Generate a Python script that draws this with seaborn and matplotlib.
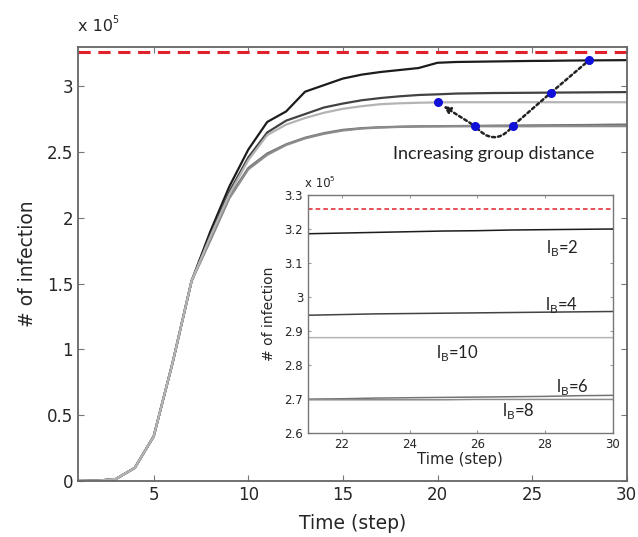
import numpy as np
import pandas as pd
import seaborn as sns
import matplotlib.pyplot as plt

# infections (x 1e5) per time step for each group distance l_B
time = list(range(1, 31))
ib2 = [0, 0.002, 0.015, 0.10, 0.34, 0.90, 1.52, 1.90, 2.24, 2.52, 2.73, 2.81, 2.96, 3.01, 3.06,
       3.09, 3.11, 3.125, 3.14, 3.18, 3.186, 3.188, 3.19, 3.192, 3.194, 3.195, 3.197, 3.198, 3.199, 3.20]
ib4 = [0, 0.002, 0.015, 0.10, 0.34, 0.90, 1.52, 1.87, 2.20, 2.46, 2.65, 2.74, 2.79, 2.84, 2.87,
       2.895, 2.912, 2.925, 2.935, 2.94, 2.946, 2.948, 2.950, 2.951, 2.952, 2.953, 2.954, 2.955, 2.956, 2.957]
ib10 = [0, 0.002, 0.015, 0.10, 0.34, 0.90, 1.52, 1.86, 2.18, 2.44, 2.63, 2.71, 2.76, 2.80, 2.83,
        2.85, 2.865, 2.872, 2.876, 2.879, 2.88, 2.88, 2.88, 2.88, 2.88, 2.88, 2.88, 2.88, 2.88, 2.88]
ib6 = [0, 0.002, 0.015, 0.10, 0.34, 0.90, 1.52, 1.84, 2.16, 2.38, 2.49, 2.56, 2.61, 2.645, 2.67,
       2.683, 2.69, 2.694, 2.697, 2.698, 2.699, 2.700, 2.702, 2.703, 2.704, 2.705, 2.706, 2.707, 2.709, 2.71]
ib8 = [0, 0.002, 0.015, 0.10, 0.34, 0.90, 1.52, 1.83, 2.15, 2.37, 2.48, 2.555, 2.605, 2.64, 2.665,
       2.68, 2.688, 2.692, 2.695, 2.696, 2.697, 2.697, 2.697, 2.697, 2.697, 2.698, 2.698, 2.698, 2.698, 2.698]
upper_bound = 3.26

series = [('2', ib2, '#1c1c1c'), ('4', ib4, '#424242'), ('6', ib6, '#747474'),
          ('8', ib8, '#8c8c8c'), ('10', ib10, '#b4b4b4')]
# dots marking where the arrow passes: (series, time)
dot_marks = [('10', 20), ('8', 22), ('6', 24), ('4', 26), ('2', 28)]
# label positions in the inset
ib_labels = {'2': (28.5, 3.145), '4': (28.5, 2.975), '10': (25.4, 2.836),
             '6': (28.8, 2.736), '8': (27.2, 2.664)}

sns.set_style('ticks')
plt.rcParams['font.family'] = ['DejaVu Sans']
LATO = ['Lato', 'DejaVu Sans']


def sci_label(axis, x, y, size):
    # "x 10^5" written as two pieces of text
    t = axis.text(x, y, 'x 10', transform=axis.transAxes, fontsize=size, ha='left', va='bottom')
    axis.annotate('5', xy=(1, 1), xycoords=t, xytext=(-0.5, -size * 0.4), textcoords='offset points',
                  fontsize=size * 0.6, ha='left', va='bottom')


fig = plt.figure(figsize=(6.38, 5.37), dpi=100)
ax = fig.add_axes([0.1223, 0.1043, 0.860, 0.8082])

for name, vals, col in series:
    df = pd.DataFrame({'t': time, 'v': vals})
    sns.lineplot(data=df, x='t', y='v', color=col, linewidth=1.6, ax=ax)
ax.axhline(upper_bound, color='#e0202a', linestyle=(0, (4, 2.5)), linewidth=2.2)

lookup = {name: vals for name, vals, col in series}
pts = [(t, lookup[n][t - 1]) for n, t in dot_marks]
ax.plot([p[0] for p in pts], [p[1] for p in pts], 'o', color='#1010d8', markersize=5.5, zorder=6)

# dotted arrow: from the l_B=2 dot back to the l_B=10 dot
pr = pts[::-1]
for i in range(len(pr) - 1):
    rad = -0.6 if i == 2 else 0.0
    last = i == len(pr) - 2
    ax.annotate('', xy=pr[i + 1], xytext=pr[i],
                arrowprops=dict(arrowstyle='-|>' if last else '-', linestyle=(0, (1.2, 1.2)),
                                color='#222222', lw=1.8, shrinkA=3, shrinkB=5 if last else 0,
                                connectionstyle='arc3,rad=%s' % rad, mutation_scale=10))
ax.text(22.98, 2.485, 'Increasing group distance', fontsize=13, ha='center', va='center',
        family=LATO, color='#222222')

ax.set_xlim(1, 30)
ax.set_ylim(0, 3.3)
ax.set_xticks([5, 10, 15, 20, 25, 30])
ax.set_yticks([0, 0.5, 1, 1.5, 2, 2.5, 3])
ax.set_yticklabels(['0', '0.5', '1', '1.5', '2', '2.5', '3'])
ax.tick_params(direction='in', top=True, right=True, labelsize=12, length=4, color='#777777')
for s in ax.spines.values():
    s.set_color('#666666')
    s.set_linewidth(1.3)
ax.set_xlabel('Time (step)', fontsize=13.5, labelpad=7)
ax.set_ylabel('# of infection', fontsize=13.5, labelpad=7)
sci_label(ax, 0.0, 1.03, 11.5)

# inset zoom on the plateau
ins = fig.add_axes([0.4828, 0.1942, 0.4776, 0.4426])
ins.set_facecolor('white')
for name, vals, col in series:
    df = pd.DataFrame({'t': time, 'v': vals})
    sns.lineplot(data=df, x='t', y='v', color=col, linewidth=1.1, ax=ins)
ins.axhline(upper_bound, color='#e0202a', linestyle=(0, (3, 2)), linewidth=1.1)
for name, (lx, ly) in ib_labels.items():
    ins.text(lx, ly, r'l$_\mathregular{B}$=' + name, fontsize=12, ha='center', va='center',
             family=LATO, color='#222222')
ins.set_xlim(21, 30)
ins.set_ylim(2.6, 3.3)
ins.set_xticks([22, 24, 26, 28, 30])
ins.set_yticks(np.round(np.arange(2.6, 3.31, 0.1), 1))
ins.set_yticklabels(['2.6', '2.7', '2.8', '2.9', '3', '3.1', '3.2', '3.3'])
ins.tick_params(direction='in', top=True, right=True, labelsize=8.5, length=2.5, color='#999999')
for s in ins.spines.values():
    s.set_color('#777777')
    s.set_linewidth(1.0)
ins.set_xlabel('Time (step)', fontsize=10.8, labelpad=1)
ins.set_ylabel('# of infection', fontsize=10, labelpad=6)
sci_label(ins, -0.01, 1.02, 8.5)

fig.savefig('out.png', dpi=100)
